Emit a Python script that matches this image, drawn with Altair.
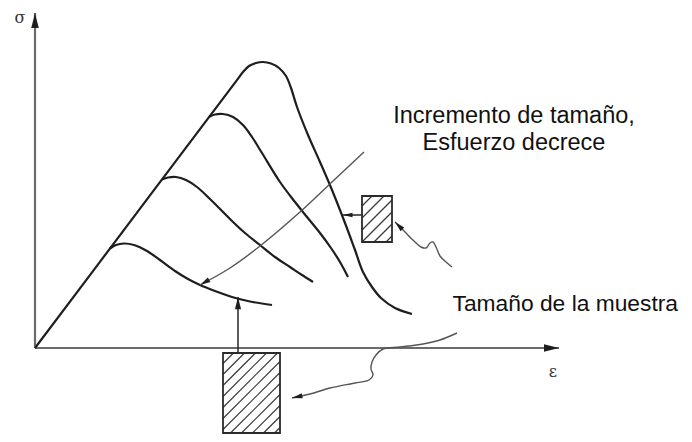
import altair as alt
import pandas as pd
import numpy as np

# ---------------- data (ε, σ in arbitrary units, origin at axes corner) -----
# largest specimen curve (includes the common elastic line from the origin)
c4_e = [0, 105, 201, 208, 214, 221, 228, 236, 244, 251, 256, 262, 273, 285, 297, 310, 320, 328, 337, 346, 360, 377]
c4_s = [0, 139.3, 266.7, 276, 282, 285, 286, 284.5, 280, 272, 260, 241, 213, 186, 158, 125, 98, 76, 61, 50, 40, 34]
# third curve
c3_e = [174, 180, 188, 198, 208, 217, 227, 245, 260, 272, 285, 296, 305, 313]
c3_s = [231, 233.5, 234, 231, 223, 211, 195, 166, 146, 131, 115, 100, 86, 71]
# second curve
c2_e = [127, 133, 141, 151, 162, 175, 195, 210, 225, 240, 255, 267, 278]
c2_s = [168.5, 170.5, 171, 168, 161, 149, 129, 115, 103, 91, 81, 73, 66]
# smallest peak curve
c1_e = [75, 81, 89, 99, 112, 125, 140, 153, 165, 180, 197, 215, 237]
c1_s = [99.5, 103, 104.5, 103, 97, 88, 77, 69, 63, 57, 51, 46.5, 43]

# axes (drawn as arrows)
yaxis_e = [0, 0]
yaxis_s = [0, 335]
xaxis_e = [0, 524]
xaxis_s = [0, 0]

# "size increases, stress decreases" arrow
diag_e = [329, 297, 265, 225, 195, 165]
diag_s = [196, 166, 136, 102, 80, 63]

# small specimen and its arrows
small_rect = [327, 357, 106, 152]          # e0, e1, s0, s1
small_arrow_e = [327, 308]
small_arrow_s = [133, 133]
wig1_e = [417, 411, 405, 401, 398, 395, 391, 386, 379, 370, 360]
wig1_s = [81, 86, 92, 101, 106, 105, 100, 101, 107, 116, 126]

# large specimen and its arrows
big_rect = [188, 245, -85, -5]
vert_arrow_e = [203, 203]
vert_arrow_s = [-4, 51]
wig2_e = [422, 405, 388, 365, 348, 341, 337, 336, 338, 334, 320, 295, 275, 257]
wig2_s = [15, 8, 4, 1, -1, -7, -14, -21, -27, -32, -35, -40, -46, -50]

# texts
notes_c = ["Incremento de tamaño,", "Esfuerzo decrece"]
notes_c_e = [479, 479]
notes_c_s = [225, 198]
notes_l_txt = ["Tamaño de la muestra"]
notes_l_e = [417.5]
notes_l_s = [37]
axis_labels = ["σ", "ε"]
axis_labels_e = [-15, 518]
axis_labels_s = [330, -24]

# ---------------- build tables ----------------
def line_df(name, es, ss):
    return pd.DataFrame({"g": name, "e": es, "s": ss, "i": range(len(es))})

curves = pd.concat([line_df("c1", c1_e, c1_s), line_df("c2", c2_e, c2_s),
                    line_df("c3", c3_e, c3_s), line_df("c4", c4_e, c4_s)])
axes = pd.concat([line_df("y", yaxis_e, yaxis_s), line_df("x", xaxis_e, xaxis_s)])
thin = pd.concat([line_df("d", diag_e, diag_s), line_df("w1", wig1_e, wig1_s),
                  line_df("w2", wig2_e, wig2_s)])
straight = pd.concat([line_df("sa", small_arrow_e, small_arrow_s),
                      line_df("va", vert_arrow_e, vert_arrow_s)])


def head(es, ss, size):
    de = es[-1] - es[-2]
    ds = ss[-1] - ss[-2]
    ang = (np.degrees(np.arctan2(de, ds)) + 360) % 360
    return {"e": es[-1], "s": ss[-1], "ang": ang, "sz": size}

heads = pd.DataFrame([
    head(yaxis_e, yaxis_s, 225), head(xaxis_e, xaxis_s, 225),
    head(diag_e, diag_s, 110), head(small_arrow_e, small_arrow_s, 90),
    head(wig1_e, wig1_s, 110), head(vert_arrow_e, vert_arrow_s, 150),
    head(wig2_e, wig2_s, 110),
])

rects = pd.DataFrame([
    {"e0": small_rect[0], "e1": small_rect[1], "s0": small_rect[2], "s1": small_rect[3]},
    {"e0": big_rect[0], "e1": big_rect[1], "s0": big_rect[2], "s1": big_rect[3]},
])


def hatch(r, step):
    e0, e1, s0, s1 = r
    rows = []
    for k in np.arange(s0 - e1 + step / 2, s1 - e0, step):
        # line s = e + k
        ea = max(e0, s0 - k)
        eb = min(e1, s1 - k)
        if eb > ea:
            rows.append({"e": ea, "s": ea + k, "e2": eb, "s2": eb + k})
    return rows

hatches = pd.DataFrame(hatch(small_rect, 12) + hatch(big_rect, 11))

notes_c_df = pd.DataFrame({"t": notes_c, "e": notes_c_e, "s": notes_c_s})
notes_l_df = pd.DataFrame({"t": notes_l_txt, "e": notes_l_e, "s": notes_l_s})
lab_df = pd.DataFrame({"t": axis_labels, "e": axis_labels_e, "s": axis_labels_s})

# ---------------- chart ----------------
xs = alt.Scale(domain=[-27, 649], nice=False, zero=False)
ys = alt.Scale(domain=[-86, 340], nice=False, zero=False)
X = alt.X("e:Q", scale=xs, axis=None)
Y = alt.Y("s:Q", scale=ys, axis=None)

axes_l = alt.Chart(axes).mark_line(color="#6b6b6b", strokeWidth=2.2).encode(
    x=X, y=Y, detail="g:N", order="i:Q")
curves_l = alt.Chart(curves).mark_line(color="#1e1e1e", strokeWidth=2.2,
                                       interpolate="catmull-rom").encode(
    x=X, y=Y, detail="g:N", order="i:Q")
thin_l = alt.Chart(thin).mark_line(color="#555555", strokeWidth=1.4,
                                   interpolate="catmull-rom").encode(
    x=X, y=Y, detail="g:N", order="i:Q")
straight_l = alt.Chart(straight).mark_line(color="#333333", strokeWidth=1.6).encode(
    x=X, y=Y, detail="g:N", order="i:Q")

rect_fill = alt.Chart(rects).mark_rect(fill="white").encode(
    x=alt.X("e0:Q", scale=xs, axis=None), x2="e1:Q",
    y=alt.Y("s0:Q", scale=ys, axis=None), y2="s1:Q")
hatch_l = alt.Chart(hatches).mark_rule(color="#3a3a3a", strokeWidth=1.2).encode(
    x=X, y=Y, x2="e2:Q", y2="s2:Q")
rect_edge = alt.Chart(rects).mark_rect(fillOpacity=0, stroke="#2a2a2a", strokeWidth=1.8).encode(
    x=alt.X("e0:Q", scale=xs, axis=None), x2="e1:Q",
    y=alt.Y("s0:Q", scale=ys, axis=None), y2="s1:Q")

heads_l = alt.Chart(heads).mark_point(shape="M0,0L0.5,2L-0.5,2Z", filled=True,
                                      color="#1e1e1e", opacity=1, strokeWidth=0).encode(
    x=X, y=Y, size=alt.Size("sz:Q", scale=None, legend=None),
    angle=alt.Angle("ang:Q", scale=None))

notes_c_l = alt.Chart(notes_c_df).mark_text(font="Liberation Sans", fontSize=23.5,
                                            color="#111111", baseline="alphabetic",
                                            align="center").encode(
    x=X, y=Y, text="t:N")
notes_l_l = alt.Chart(notes_l_df).mark_text(font="Liberation Sans", fontSize=22.8,
                                            color="#111111", baseline="alphabetic",
                                            align="left").encode(
    x=X, y=Y, text="t:N")
labels_l = alt.Chart(lab_df).mark_text(font="DejaVu Serif", fontSize=16, color="#333333",
                                       baseline="middle", align="center").encode(
    x=X, y=Y, text="t:N")

chart = alt.layer(axes_l, curves_l, thin_l, straight_l, rect_fill, hatch_l, rect_edge,
                  heads_l, notes_c_l, notes_l_l, labels_l).properties(
    width=676, height=426, padding=0,
    autosize=alt.AutoSizeParams(type="none"),
    background="white",
).configure_view(strokeWidth=0)

chart.save("out.html", embed_options={"renderer": "svg", "actions": False})
